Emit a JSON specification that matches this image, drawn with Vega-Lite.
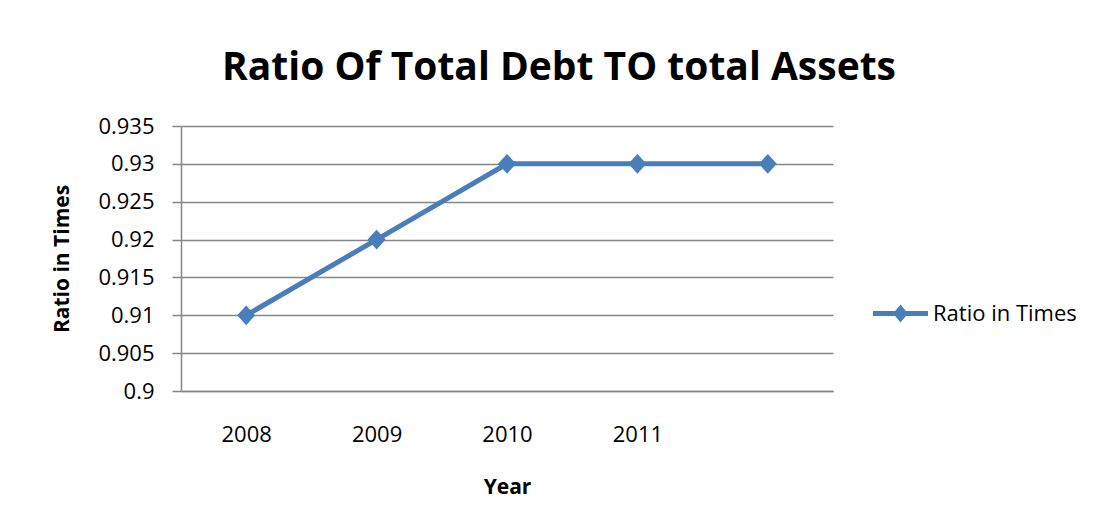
{
  "$schema": "https://vega.github.io/schema/vega-lite/v6.json",
  "width": 652,
  "height": 265,
  "autosize": {"type": "none"},
  "padding": {"left": 181, "top": 126, "right": 266, "bottom": 136},
  "background": "white",
  "title": {
    "text": "Ratio Of Total Debt TO total Assets",
    "font": "Open Sans",
    "fontSize": 39,
    "fontWeight": "bold",
    "color": "#000000",
    "anchor": "middle",
    "frame": "group",
    "dx": 52,
    "dy": 40,
    "baseline": "alphabetic",
    "offset": 36
  },
  "data": {
    "values": [
      {"Year": "2008", "Ratio": 0.91},
      {"Year": "2009", "Ratio": 0.92},
      {"Year": "2010", "Ratio": 0.93},
      {"Year": "2011", "Ratio": 0.93},
      {"Year": "", "Ratio": 0.93}
    ]
  },
  "encoding": {
    "x": {
      "field": "Year",
      "type": "nominal",
      "sort": null,
      "scale": {"type": "point", "padding": 0.5},
      "axis": {
        "title": "Year",
        "labelAngle": 0,
        "ticks": false,
        "tickSize": 0,
        "labelPadding": 33,
        "domain": true,
        "domainColor": "#868686",
        "domainWidth": 1.5,
        "grid": false,
        "labelFont": "Open Sans",
        "labelFontSize": 22,
        "labelColor": "#000000",
        "titleFont": "Open Sans",
        "titleFontSize": 21,
        "titleFontWeight": "bold",
        "titleColor": "#000000",
        "titlePadding": 30,
        "minExtent": 55,
        "maxExtent": 55
      }
    },
    "y": {
      "field": "Ratio",
      "type": "quantitative",
      "scale": {"domain": [0.9, 0.935], "nice": false, "zero": false},
      "axis": {
        "title": "Ratio in Times",
        "values": [0.9, 0.905, 0.91, 0.915, 0.92, 0.925, 0.93, 0.935],
        "format": "~g",
        "labelFont": "Open Sans",
        "labelFontSize": 22,
        "labelColor": "#000000",
        "labelPadding": 18,
        "labelFlush": false,
        "labelOverlap": false,
        "tickSize": 9,
        "tickColor": "#868686",
        "tickWidth": 1.5,
        "domainColor": "#868686",
        "domainWidth": 1.5,
        "grid": true,
        "gridColor": "#868686",
        "gridWidth": 1.5,
        "gridOpacity": 1,
        "titleFont": "Open Sans",
        "titleFontSize": 21,
        "titleFontWeight": "bold",
        "titleColor": "#000000",
        "titlePadding": 26,
        "minExtent": 83,
        "maxExtent": 83
      }
    }
  },
  "layer": [
    {
      "mark": {"type": "line", "strokeWidth": 5, "strokeCap": "round"},
      "encoding": {
        "color": {
          "datum": "Ratio in Times",
          "scale": {"range": ["#4A7EBB"]},
          "legend": {
            "orient": "none",
            "legendX": 692,
            "legendY": 160,
            "title": null,
            "padding": 0,
            "symbolType": "M-1,-0.09L1,-0.09L1,0.09L-1,0.09Z M0,-0.33L0.27,0L0,0.33L-0.27,0Z",
            "symbolSize": 3025,
            "symbolFillColor": "#4A7EBB",
            "symbolStrokeWidth": 0,
            "labelFont": "Open Sans",
            "labelFontSize": 22,
            "labelColor": "#000000",
            "labelOffset": 5,
            "encode": {
              "symbols": {
                "update": {
                  "fill": {"value": "#4A7EBB"},
                  "stroke": {"value": "transparent"},
                  "strokeWidth": {"value": 0}
                }
              }
            }
          }
        }
      }
    },
    {
      "mark": {
        "type": "point",
        "shape": "M0,-1.1L1,0L0,1.1L-1,0Z",
        "size": 324,
        "filled": true,
        "opacity": 1,
        "color": "#4A7EBB"
      }
    }
  ],
  "config": {"view": {"stroke": null}, "font": "Open Sans"}
}
